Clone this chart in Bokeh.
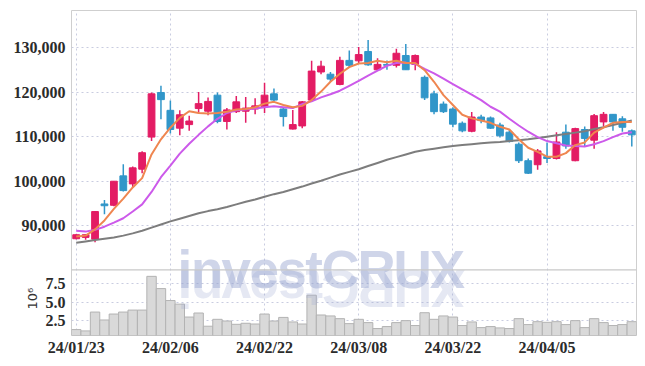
import numpy as np
from bokeh.plotting import figure
from bokeh.models import (ColumnDataSource, FixedTicker, NumeralTickFormatter,
                          Range1d, Span, Title)
from bokeh.core.properties import value
from bokeh.embed import file_html
from bokeh.resources import INLINE

# ---------------- data ----------------
dates = ["24/01/23", "24/01/24", "24/01/25", "24/01/26", "24/01/29", "24/01/30", "24/01/31",
         "24/02/01", "24/02/02", "24/02/05", "24/02/06", "24/02/07", "24/02/08", "24/02/13",
         "24/02/14", "24/02/15", "24/02/16", "24/02/19", "24/02/20", "24/02/21", "24/02/22",
         "24/02/23", "24/02/26", "24/02/27", "24/02/28", "24/02/29", "24/03/04", "24/03/05",
         "24/03/06", "24/03/07", "24/03/08", "24/03/11", "24/03/12", "24/03/13", "24/03/14",
         "24/03/15", "24/03/18", "24/03/19", "24/03/20", "24/03/21", "24/03/22", "24/03/25",
         "24/03/26", "24/03/27", "24/03/28", "24/03/29", "24/04/01", "24/04/02", "24/04/03",
         "24/04/04", "24/04/05", "24/04/08", "24/04/09", "24/04/11", "24/04/12", "24/04/15",
         "24/04/16", "24/04/17", "24/04/18", "24/04/19"]

open_ = [87100, 87400, 87000, 94900, 94600, 101200, 99400, 102700, 109900, 119900,
         115900, 111900, 112700, 116300, 115700, 119300, 113400, 115600, 115700, 116200,
         116700, 119600, 116200, 111700, 112400, 118200, 124500, 124000, 121700, 127100,
         127000, 129100, 125000, 126200, 126000, 128200, 126200, 123300, 119600, 117300,
         116200, 113000, 111200, 114400, 114200, 112600, 111000, 108300, 104600, 103700,
         105500, 105100, 111000, 104600, 111600, 109200, 113300, 115000, 114000, 111300]
high = [88100, 88100, 93300, 95800, 100000, 103800, 103300, 106700, 119900, 121400,
        118100, 115900, 114700, 120000, 118800, 119900, 116400, 119100, 118900, 118600,
        122100, 120800, 116600, 116000, 118000, 127000, 127000, 124500, 127900, 129300,
        130100, 131700, 127600, 127100, 129700, 130800, 128400, 123700, 120300, 117900,
        116600, 113400, 115500, 114900, 114500, 113100, 111500, 108700, 105100, 107200,
        108700, 111000, 112700, 112000, 112300, 115100, 115500, 115000, 114600, 111600]
low = [87000, 86900, 86300, 92600, 94400, 97700, 98700, 101800, 109000, 113900,
       110700, 110300, 111300, 115200, 114800, 113000, 111600, 115300, 113100, 115000,
       115300, 117900, 112300, 111600, 111900, 117900, 124000, 122300, 121500, 125600,
       126400, 125900, 124900, 125000, 125500, 125000, 124900, 118200, 115000, 115300,
       112100, 111000, 111000, 113000, 111700, 109800, 108700, 104100, 101600, 102600,
       104100, 104900, 107300, 104500, 107900, 107300, 112300, 111300, 111100, 107800]
close = [88000, 88000, 93200, 94500, 100000, 97900, 103000, 106400, 119600, 118300,
         111600, 114900, 113500, 117400, 117900, 113400, 116000, 117800, 116400, 116900,
         119300, 118200, 114500, 112700, 117800, 124700, 125800, 122900, 127100, 126000,
         128400, 126100, 126200, 126000, 128700, 125000, 128200, 118700, 115600, 115600,
         112800, 111300, 114400, 113600, 111900, 110200, 108900, 104600, 101800, 106800,
         105100, 108800, 107900, 111800, 109600, 114700, 115000, 113300, 112100, 110400]

ma_short = [87600, 87800, 89200, 91200, 93800, 96100, 98600, 100700, 106000, 109400,
            112000, 114200, 115700, 115300, 115200, 115300, 115600, 116100, 116200, 116600,
            117400, 117800, 117100, 116600, 116900, 118200, 120100, 122300, 124100, 125600,
            126400, 126500, 127000, 126700, 127000, 126500, 126500, 124900, 122300, 119300,
            117100, 114900, 114100, 113600, 113100, 112200, 111600, 109400, 107500, 106600,
            105500, 105500, 106300, 108100, 108700, 110900, 112000, 113100, 113300, 113300]
ma_mid = [88900, 88700, 89100, 89800, 90700, 91700, 93200, 94800, 97600, 100900,
          103500, 106200, 108400, 110400, 112300, 114000, 115300, 115900, 116100, 116300,
          116600, 116800, 116600, 116400, 117300, 117900, 118800, 119500, 120300, 121400,
          122500, 123700, 124800, 125900, 126500, 126600, 126300, 125200, 124200, 123000,
          121800, 120600, 119400, 118200, 116700, 115600, 114000, 112500, 111100, 109900,
          109000, 108500, 108000, 107900, 107800, 108300, 109000, 109900, 110700, 111000]
ma_long = [86200, 86500, 86800, 87100, 87400, 87800, 88300, 88900, 89600, 90300,
           91000, 91600, 92200, 92800, 93300, 93700, 94200, 94800, 95400, 95900,
           96500, 97100, 97600, 98200, 98800, 99500, 100100, 100800, 101500, 102100,
           102700, 103400, 104100, 104800, 105400, 106000, 106600, 107000, 107300, 107600,
           107900, 108100, 108300, 108500, 108700, 108800, 109000, 109200, 109400, 109700,
           110000, 110300, 110600, 110900, 111200, 111700, 112100, 112600, 113100, 113600]

volume_m = [1.24, 1.06, 3.63, 2.55, 3.36, 3.63, 3.90, 3.90, 8.50, 6.83,
            5.20, 4.71, 2.95, 3.50, 1.70, 2.64, 2.41, 1.96, 2.10, 2.00,
            3.36, 2.41, 2.90, 2.28, 2.00, 5.93, 3.23, 3.10, 2.73, 2.05,
            2.64, 2.19, 1.38, 1.65, 2.19, 2.46, 1.79, 3.54, 2.64, 3.10,
            2.95, 1.79, 2.28, 1.51, 1.65, 1.47, 1.38, 2.73, 1.92, 2.32,
            2.23, 2.32, 1.92, 2.46, 1.51, 2.73, 2.19, 1.79, 1.92, 2.32]

price_ticks = [90000, 100000, 110000, 120000, 130000]
volume_ticks = [2.5, 5.0, 7.5]
volume_tick_labels = ["2.5", "5.0", "7.5"]
date_tick_idx = [0, 10, 20, 30, 40, 50]
watermark = "investCRUX"
volume_unit_label = "10⁶"

# ---------------- layout / style constants (page pixels) ----------------
UP = "#e31c64"
DOWN = "#3196c9"
GRID = "#c9cce0"
BORDER = "#cfcfcf"
LABEL_FONT = "Liberation Sans Narrow"
LABEL_COLOR = "#2b2b2b"
WM_COLOR = "#9aa5d0"

LEFT = 71            # frame left edge
FRAME_W = 565
FRAME_TOP, FRAME_BOT = 10, 338
SPLIT_Y = 271.7
PRICE_REF, PRICE_REF_Y, PRICE_PER_PX = 120000, 92.3, 10000 / 45.0
VOL_REF, VOL_REF_Y, VOL_PER_PX = 2.5, 322.7, 1 / 7.4

price_lo = PRICE_REF - (FRAME_BOT - PRICE_REF_Y) * PRICE_PER_PX
price_hi = PRICE_REF + (PRICE_REF_Y - FRAME_TOP) * PRICE_PER_PX
vol_lo = VOL_REF - (FRAME_BOT - VOL_REF_Y) * VOL_PER_PX
vol_hi = VOL_REF + (VOL_REF_Y - FRAME_TOP) * VOL_PER_PX


def price_at_px(py):
    return PRICE_REF - (py - PRICE_REF_Y) * PRICE_PER_PX


def vol_to_price(v):
    return price_lo + (v - vol_lo) / (vol_hi - vol_lo) * (price_hi - price_lo)


idx = list(range(len(dates)))
colors = [UP if c >= o else DOWN for o, c in zip(open_, close)]
src = ColumnDataSource(dict(
    x=idx, o=open_, h=high, l=low, c=close,
    top=[max(o, c) for o, c in zip(open_, close)],
    bot=[min(o, c) for o, c in zip(open_, close)],
    color=colors, vol=volume_m))

X0, X1 = -0.5, len(dates) - 0.5
px_per_unit = FRAME_W / (X1 - X0)


def x_at_px(px):
    return X0 + (px - LEFT) / px_per_unit


p = figure(width=LEFT + FRAME_W + 2, height=FRAME_BOT + 20,
           x_range=Range1d(X0, X1), y_range=Range1d(price_lo, price_hi),
           output_backend="svg", toolbar_location=None,
           min_border_left=LEFT, min_border_right=2, min_border_top=FRAME_TOP,
           min_border_bottom=20)
p.extra_y_ranges = {"vol": Range1d(vol_lo, vol_hi)}
p.outline_line_color = BORDER
p.background_fill_color = "white"


def style_axis(ax):
    ax.axis_line_color = None
    ax.major_tick_line_color = None
    ax.minor_tick_line_color = None
    ax.major_tick_out = 0
    ax.major_tick_in = 0
    ax.major_label_text_font = LABEL_FONT
    ax.major_label_text_font_style = "bold"
    ax.major_label_text_font_size = "16px"
    ax.major_label_text_color = LABEL_COLOR


vol_tick_pos = [int(round(vol_to_price(v))) for v in volume_ticks]
yax = p.yaxis[0]
yax.ticker = FixedTicker(ticks=vol_tick_pos + price_ticks)
yax.formatter = NumeralTickFormatter(format="0,0")
yax.major_label_overrides = {pos: lab for pos, lab in zip(vol_tick_pos, volume_tick_labels)}
style_axis(yax)
yax.major_label_standoff = 6

xax = p.xaxis[0]
xax.ticker = FixedTicker(ticks=date_tick_idx)
xax.major_label_overrides = {i: dates[i] for i in date_tick_idx}
style_axis(xax)
xax.major_label_standoff = 3

for g in (p.xgrid, p.ygrid):
    g.grid_line_color = GRID
    g.grid_line_dash = "2 3"
    g.grid_line_width = 1

# ---------------- volume unit "10⁶" (vertical side title pulled in next to the volume ticks) ----------------
unit_title = Title(text=volume_unit_label, align="left", offset=FRAME_BOT - 312,
                   vertical_align="bottom", text_font="DejaVu Sans",
                   text_font_size="13px", text_font_style="normal",
                   text_color="#333333")
try:
    unit_title.standoff = -58
    p.add_layout(unit_title, "left")
except Exception:
    pass

# ---------------- volume bars ----------------
p.vbar(x="x", top="vol", bottom=0, width=1.0, source=src, y_range_name="vol",
       fill_color="#d9d9d9", line_color="#b3b3b3", line_width=1)

# ---------------- watermark + reflection ----------------
adv = {"i": .278, "n": .611, "v": .556, "e": .556, "s": .556, "t": .333,
       "C": .722, "R": .722, "U": .722, "X": .667}
wm_left_px, wm_scale = 177.5, 50.0
centers_px = []
cur = wm_left_px
for ch in watermark:
    centers_px.append(cur + adv[ch] * wm_scale / 2)
    cur += adv[ch] * wm_scale
wm_x = [x_at_px(c) for c in centers_px]
wm_chars = list(watermark)

# upside-down copy centred just below the separator (reflection)
p.text(x=wm_x, y=[price_at_px(SPLIT_Y + 18.7)] * len(wm_x), text=wm_chars,
       angle=float(np.pi),
       text_font=value("Liberation Sans"), text_font_style="bold",
       text_font_size=value("53px"), text_align="center", text_baseline="middle",
       text_color=WM_COLOR, text_alpha=0.26)
p.text(x=wm_x, y=[price_at_px(SPLIT_Y)] * len(wm_x), text=wm_chars,
       text_font=value("Liberation Sans"), text_font_style="bold",
       text_font_size=value("53px"), text_align="center", text_baseline="alphabetic",
       text_color=WM_COLOR, text_alpha=0.47)

p.add_layout(Span(location=price_at_px(SPLIT_Y), dimension="width",
                  line_color="#c8c8c8", line_width=1.2))

# ---------------- candles ----------------
p.segment(x0="x", y0="h", x1="x", y1="l", source=src, line_color="color", line_width=1.5)
p.vbar(x="x", top="top", bottom="bot", width=0.72, source=src,
       fill_color="color", line_color="color", line_width=1)

# ---------------- moving averages ----------------
p.line(idx, ma_long, line_color="#7d7d7d", line_width=2)
p.line(idx, ma_mid, line_color="#cc5aea", line_width=2)
p.line(idx, ma_short, line_color="#ef8650", line_width=2)

open("out.html", "w").write(file_html(p, INLINE))
